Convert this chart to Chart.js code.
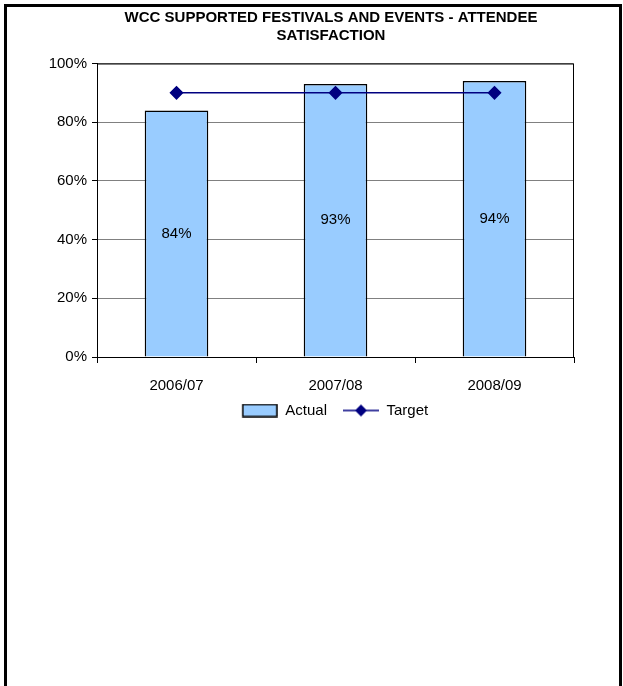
<!DOCTYPE html>
<html>
<head>
<meta charset="utf-8">
<script src="https://cdn.jsdelivr.net/npm/chart.js@4.4.1/dist/chart.umd.min.js"></script>
<style>
  html, body { margin: 0; padding: 0; background: #fff; }
  #wrap { position: absolute; left: 0; top: 0; width: 623px; height: 430px; }
  #frame { position: absolute; left: 4px; top: 4px; width: 612px; height: 700px;
           border-left: 3px solid #000; border-top: 3px solid #000; border-right: 3px solid #000;
           pointer-events: none; }
</style>
</head>
<body>
<div id="wrap"><canvas id="chart"></canvas></div>
<div id="frame"></div>
<script>
const years = ['2006/07', '2007/08', '2008/09'];
const actual = [84, 93, 94];
const target = [90, 90, 90];
const yTicks = [0, 20, 40, 60, 80, 100];

const FONT = "'Liberation Sans', Arial, sans-serif";

// legend swatches (8px blank on the left = extra gap between items)
function swatch(kind) {
    const c = document.createElement('canvas');
    c.width = 44; c.height = 14;
    const g = c.getContext('2d');
    if (kind === 'bar') {
        g.fillStyle = '#99CCFF';
        g.fillRect(9, 1, 34, 12);
        g.strokeStyle = '#000';
        g.lineWidth = 1.5;
        g.strokeRect(9, 1, 34, 12);
    } else {
        g.strokeStyle = '#000080';
        g.lineWidth = 1.5;
        g.beginPath(); g.moveTo(8, 7); g.lineTo(44, 7); g.stroke();
        g.fillStyle = '#000080';
        g.beginPath(); g.moveTo(26, 1); g.lineTo(32, 7); g.lineTo(26, 13); g.lineTo(20, 7); g.closePath(); g.fill();
    }
    return c;
}
const barSwatch = swatch('bar');
const lineSwatch = swatch('line');

// value labels in the middle of the bars + plot frame
const extras = {
    id: 'extras',
    afterDatasetsDraw(chart) {
        const ctx = chart.ctx;
        const meta = chart.getDatasetMeta(1);
        ctx.save();
        ctx.font = '15px ' + FONT;
        ctx.fillStyle = '#000';
        ctx.textAlign = 'center';
        ctx.textBaseline = 'middle';
        meta.data.forEach((bar, i) => {
            const y = (bar.y + bar.base) / 2;
            ctx.fillText(actual[i] + '%', bar.x, y);
        });
        ctx.restore();
    },
    beforeDatasetsDraw(chart) {
        const a = chart.chartArea;
        const ctx = chart.ctx;
        ctx.save();
        ctx.strokeStyle = '#000';
        ctx.lineWidth = 1;
        ctx.beginPath();
        ctx.moveTo(a.left, a.top + 0.5);
        ctx.lineTo(a.right - 0.5, a.top + 0.5);
        ctx.lineTo(a.right - 0.5, a.bottom);
        ctx.stroke();
        ctx.restore();
    }
};

new Chart(document.getElementById('chart'), {
    data: {
        labels: years,
        datasets: [
            {
                type: 'line',
                label: 'Target',
                data: target,
                borderColor: '#000080',
                backgroundColor: '#000080',
                borderWidth: 1.5,
                pointStyle: 'rectRot',
                pointRadius: 6,
                pointHoverRadius: 6,
                order: 0
            },
            {
                type: 'bar',
                label: 'Actual',
                data: actual,
                backgroundColor: '#99CCFF',
                borderColor: '#000',
                borderWidth: 1.5,
                barPercentage: 0.4,
                categoryPercentage: 1,
                order: 1
            }
        ]
    },
    plugins: [extras],
    options: {
        responsive: true,
        maintainAspectRatio: false,
        animation: false,
        layout: { padding: { left: 40, right: 1, top: 0, bottom: 2 } },
        plugins: {
            title: {
                display: true,
                text: ['WCC SUPPORTED FESTIVALS AND EVENTS - ATTENDEE', 'SATISFACTION'],
                color: '#000',
                font: { family: FONT, size: 15, weight: 'bold', lineHeight: 1.25 },
                padding: { top: 8, bottom: 18 }
            },
            legend: {
                position: 'bottom',
                labels: {
                    color: '#000',
                    font: { family: FONT, size: 15 },
                    usePointStyle: true,
                    pointStyleWidth: 44,
                    padding: 8,
                    generateLabels(chart) {
                        return [
                            { text: 'Actual', pointStyle: barSwatch, datasetIndex: 1, fontColor: '#000', lineWidth: 0 },
                            { text: 'Target', pointStyle: lineSwatch, datasetIndex: 0, fontColor: '#000', lineWidth: 0 }
                        ];
                    }
                }
            },
            tooltip: { enabled: false }
        },
        scales: {
            x: {
                offset: true,
                afterFit(s) { s.height = 38; },
                grid: { display: true, drawOnChartArea: false, offset: true, tickLength: 6, color: '#000' },
                border: { color: '#000' },
                ticks: { color: '#000', font: { family: FONT, size: 15 }, padding: 14 }
            },
            y: {
                min: 0,
                max: 100,
                afterBuildTicks(s) { s.ticks = yTicks.map(v => ({ value: v })); },
                afterFit(s) { s.width = 57; },
                grid: {
                    color: '#808080',
                    tickColor: '#000',
                    tickLength: 5
                },
                border: { color: '#000' },
                ticks: {
                    color: '#000',
                    padding: 5,
                    font: { family: FONT, size: 15 },
                    callback: v => v + '%'
                }
            },
            y2: {
                position: 'right',
                display: true,
                grid: { display: false },
                border: { display: false },
                ticks: { display: false },
                afterFit(s) { s.width = 48; }
            }
        }
    }
});
</script>
</body>
</html>
